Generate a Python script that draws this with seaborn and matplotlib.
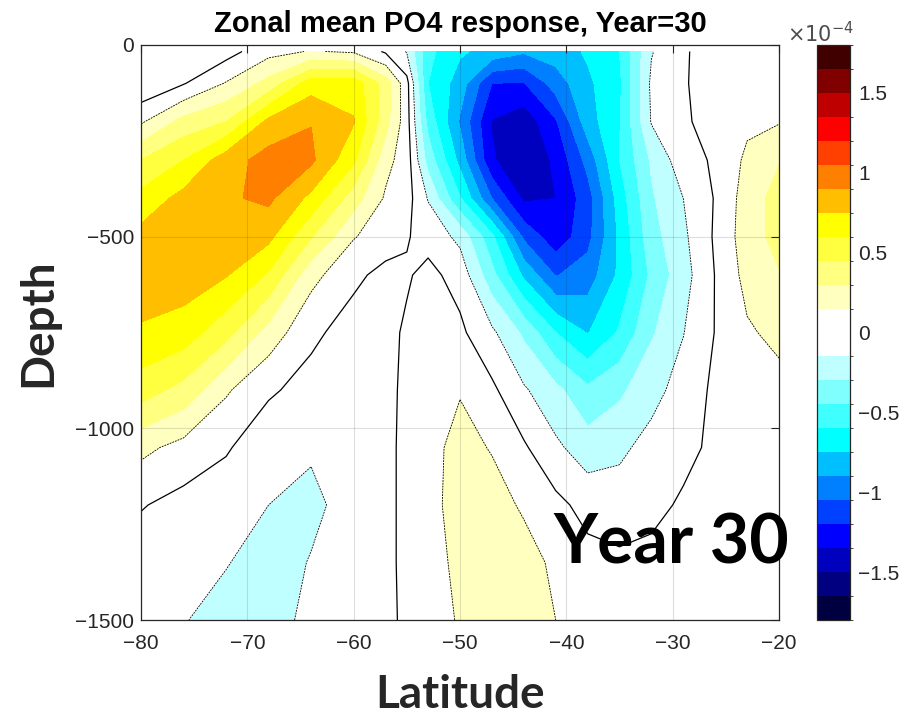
import numpy as np
import matplotlib
matplotlib.use("Agg")
import matplotlib.pyplot as plt
import seaborn as sns
from matplotlib.colors import ListedColormap, BoundaryNorm

# ---------------- data (PO4 response, units of 1e-5) ----------------
lats = [-80, -76, -72, -68, -64, -60, -57, -55, -53, -50, -47, -44, -41, -38, -35, -32, -29, -26, -23, -20]
depths = [17, 100, 200, 300, 400, 500, 600, 750, 900, 1050, 1200, 1350, 1500]

d17 = [-1.4, -1.3, -0.6, 1.0, 1.6, 1.3, -0.2, -1.6, -5.6, -7.3, -8.0, -8.8, -8.3, -7.3, -6.0, -1.6, -0.1, 0.4, 0.7, 0.9]
d100 = [-1.3, -0.1, 1.6, 3.5, 6.8, 6.9, 3.8, 0.5, -6.0, -8.2, -12.0, -12.1, -9.8, -7.8, -6.3, -1.2, -0.1, 0.5, 0.9, 1.2]
d200 = [1.3, 3.5, 4.5, 7.9, 8.95, 7.6, 3.6, 0.6, -5.0, -9.2, -13.6, -14.5, -12.2, -8.2, -6.1, -1.4, -0.15, 0.4, 1.2, 1.4]
d300 = [4.5, 6.0, 8.3, 9.6, 9.3, 6.3, 2.0, 0.75, -3.6, -8.0, -13.3, -14.8, -13.2, -10.0, -6.0, -2.8, -0.6, 0.2, 1.8, 2.9]
d400 = [6.5, 8.0, 8.8, 9.3, 7.1, 3.7, 1.3, 0.6, -1.6, -5.9, -10.5, -13.8, -13.5, -11.2, -6.8, -3.2, -1.5, 0.1, 2.2, 3.6]
d500 = [8.0, 8.7, 8.7, 7.9, 4.6, 1.6, 0.7, 0.1, -0.5, -1.9, -5.6, -10.8, -13.0, -11.0, -7.2, -3.6, -1.8, 0.2, 2.3, 3.5]
d600 = [8.4, 8.3, 7.6, 5.8, 2.0, 0.3, -0.4, -0.15, 0.4, -0.55, -4.0, -7.8, -10.6, -9.8, -7.2, -4.2, -2.1, 0.05, 2.0, 2.9]
d750 = [7.3, 6.8, 5.0, 2.4, 0.3, -0.6, -0.4, 0.2, 0.5, 0.3, -1.2, -3.3, -6.0, -7.6, -5.8, -3.2, -1.55, 0.05, 1.3, 1.9]
d900 = [5.2, 4.0, 1.7, 0.2, -0.5, -0.8, -0.5, 0.4, 1.0, 1.4, 0.3, -1.3, -2.6, -4.2, -3.3, -2.0, -0.9, 0.3, 0.9, 1.0]
d1050 = [1.9, 1.0, 0.15, -0.9, -1.3, -0.9, -0.5, 0.5, 1.0, 2.0, 1.4, 0.2, -1.2, -2.3, -1.8, -1.0, -0.4, 0.3, 0.7, 0.7]
d1200 = [0.1, -0.5, -0.8, -1.5, -1.9, -0.8, -0.5, 0.5, 1.1, 2.0, 2.1, 1.3, 0.4, -0.5, -0.8, -0.4, 0.2, 0.5, 0.6, 0.6]
d1350 = [-0.8, -1.2, -1.4, -2.3, -1.4, -0.9, -0.5, 0.5, 1.0, 1.8, 2.6, 2.1, 1.2, 0.5, 0.3, 0.4, 0.5, 0.5, 0.5, 0.5]
d1500 = [-1.0, -1.4, -2.2, -2.6, -0.8, -0.9, -0.5, 0.4, 1.0, 1.6, 2.6, 2.4, 1.5, 0.6, 0.4, 0.4, 0.4, 0.4, 0.4, 0.4]

cbar_ticks = [-1.5, -1, -0.5, 0, 0.5, 1, 1.5]
cbar_ticklabels = ["\u22121.5", "\u22121", "\u22120.5", "0", "0.5", "1", "1.5"]
x_ticks = [-80, -70, -60, -50, -40, -30, -20]
y_ticks = [-1500, -1000, -500, 0]

# colours of the 24 bands, from -1.8e-4 up to 1.8e-4
band_colors = ['#000040', '#000080', '#0000bf', '#0000ff', '#0040ff', '#0080ff',
               '#00bfff', '#00ffff', '#40ffff', '#80ffff', '#bfffff', '#ffffff',
               '#ffffff', '#ffffbf', '#ffff80', '#ffff40', '#ffff00', '#ffbf00',
               '#ff8000', '#ff4000', '#ff0000', '#bf0000', '#800000', '#400000']

# ---------------- figure ----------------
sns.set_style("white")
plt.rcParams['font.family'] = ['Liberation Sans', 'DejaVu Sans']

Z = np.array([d17, d100, d200, d300, d400, d500, d600, d750, d900,
              d1050, d1200, d1350, d1500]) * 0.1   # -> units of 1e-4
X = np.array(lats)
Y = -np.array(depths)

levels = np.linspace(-1.8, 1.8, 25)
cmap = ListedColormap(sns.color_palette(band_colors))
norm = BoundaryNorm(levels, cmap.N)

fig = plt.figure(figsize=(9.24, 7.17), dpi=100)
ax = fig.add_axes([141/924, 1-620/717, 638/924, 575/717])

cf = ax.contourf(X, Y, Z, levels=levels, cmap=cmap, norm=norm)
ax.contour(X, Y, Z, levels=[0], colors='k', linewidths=0.9)
ax.contour(X, Y, Z, levels=[-0.15, 0.15], colors='k', linewidths=0.6,
           linestyles=[(0, (2.2, 1.2))])

ax.set_xlim(-80, -20)
ax.set_ylim(-1500, 0)
ax.set_xticks(x_ticks)
ax.set_yticks(y_ticks)
ax.grid(True, color='0.15', alpha=0.15, linewidth=0.8)
ax.set_axisbelow(False)
ax.tick_params(direction='in', length=6, width=0.8, colors='0.15',
               labelsize=15, top=True, right=True, labelcolor='0.15', pad=5)
ax.tick_params(axis='x', pad=10)
for s in ax.spines.values():
    s.set_color('0.15')
    s.set_linewidth(0.9)

ax.set_title("Zonal mean PO4 response, Year=30", fontsize=21, fontweight='bold',
             pad=9, color='black')

fig.text(460/924, 1-708/717, "Latitude", ha='center', va='baseline',
         fontsize=33, fontweight='bold', family=['Lato', 'DejaVu Sans'])
fig.text(38/924, 1-323/717, "Depth", ha='center', va='center', rotation=90,
         fontsize=33, fontweight='bold', family=['Lato', 'DejaVu Sans'])

ax.text(0.646, 0.099, "Year 30", transform=ax.transAxes, ha='left', va='baseline',
        fontsize=49, fontweight='bold', family=['Lato', 'DejaVu Sans'], color='black')

# colorbar
cax = fig.add_axes([817/924, 1-620/717, 33/924, 575/717])
cb = fig.colorbar(cf, cax=cax, ticks=cbar_ticks)
cb.ax.set_yticklabels(cbar_ticklabels)
cb.ax.tick_params(direction='in', length=5, width=0.8, colors='0.15',
                  labelsize=15, labelcolor='0.15', pad=6)
cb.outline.set_edgecolor('0.15')
cb.outline.set_linewidth(0.9)
fig.text(787/924, 1-42/717, r"$\times10^{-4}$", ha='left', va='baseline',
         fontsize=15, color='0.3')

fig.savefig("out.png", dpi=100)
